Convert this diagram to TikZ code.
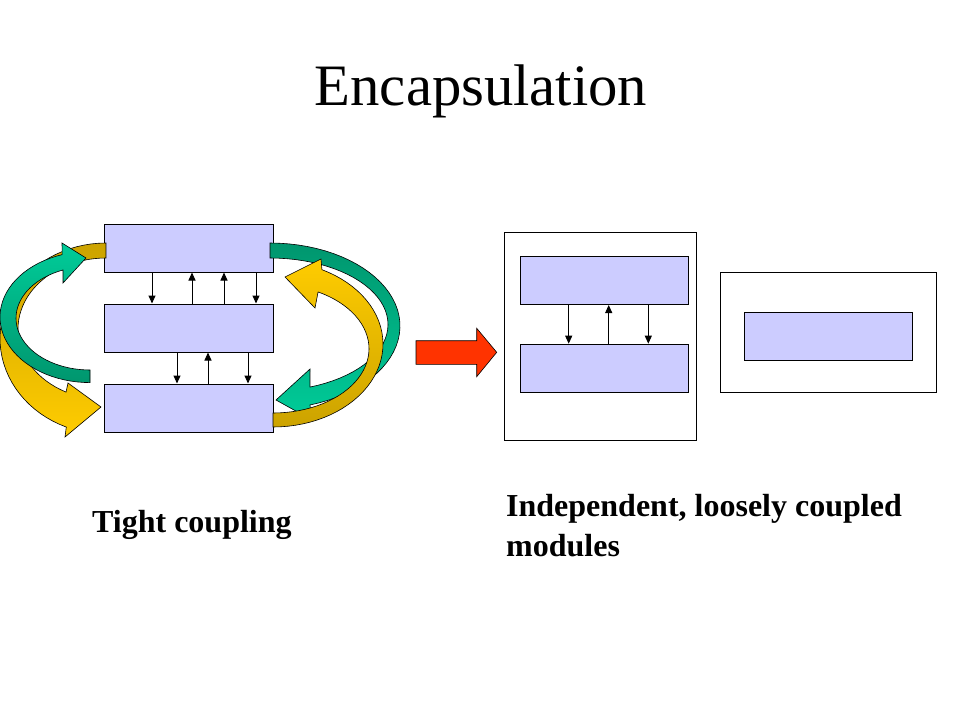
\documentclass[tikz,border=0pt]{standalone}
\usepackage{fontspec}
\setmainfont{Liberation Serif}
\usetikzlibrary{arrows.meta}
\definecolor{lavender}{RGB}{204,204,255}
\definecolor{darkgold}{RGB}{204,163,0}
\definecolor{brightgold}{RGB}{255,204,0}
\definecolor{darkteal}{RGB}{0,150,110}
\definecolor{brightteal}{RGB}{0,204,153}
\definecolor{blockred}{RGB}{255,51,0}
\begin{document}
\begin{tikzpicture}[x=1pt,y=-1pt,
    box/.style={draw,line width=1pt,fill=lavender,minimum width=169pt,minimum height=48pt,inner sep=0pt},
    frame/.style={draw,line width=1pt,fill=white,inner sep=0pt},
    link/.style={line width=1pt,-{Triangle[width=7pt,length=8pt]}},
    band/.style={draw=black,line width=0.6pt},
    caption/.style={anchor=base west,inner sep=0pt,align=left,font=\bfseries\fontsize{32}{40}\selectfont}]
                \useasboundingbox (0,0) rectangle (960,720);
                \node[anchor=base,inner sep=0pt,font=\fontsize{58.7}{70}\selectfont] (title) at (481,105.5) {Encapsulation};
                % tight coupling
                \node[box] (top) at (188.5,248) {};
                \node[box] (mid) at (188.5,328) {};
                \node[box] (bot) at (188.5,408) {};
                \shade[band,top color=darkgold,bottom color=brightgold]
                    plot[domain=270:112,samples=40] ({106+106*cos(\x)},{338.5+95.5*sin(\x)})
                    -- (65,437) -- (101,407) -- (68,383)
                    -- plot[domain=117:270,samples=40] ({106+88*cos(\x)},{328.9+70.9*sin(\x)}) -- cycle;
                \shade[band,top color=brightteal,bottom color=darkteal]
                    plot[domain=90:252,samples=40] ({90+90*cos(\x)},{317+65.6*sin(\x)})
                    -- (62,243) -- (86,258) -- (63,283)
                    -- plot[domain=248.6:90,samples=40] ({90+74*cos(\x)},{318.2+51.8*sin(\x)}) -- cycle;
                \shade[band,top color=darkteal,bottom color=brightteal]
                    plot[domain=-90:72.1,samples=40] ({270+130*cos(\x)},{326+83*sin(\x)})
                    -- (312,420) -- (276,400) -- (310,369)
                    -- plot[domain=70.2:-90,samples=40] ({270+118*cos(\x)},{324.5+66.5*sin(\x)}) -- cycle;
                \shade[band,top color=brightgold,bottom color=darkgold]
                    plot[domain=90:-63.6,samples=40] ({273+110*cos(\x)},{344+83*sin(\x)})
                    -- (321,259) -- (285,277) -- (315,308)
                    -- plot[domain=-62:90,samples=40] ({273+96*cos(\x)},{348.7+64.3*sin(\x)}) -- cycle;
                \foreach \dx in {-36.5,67.5} \draw[link] ([xshift=\dx pt]top.south) -- ([xshift=\dx pt]mid.north);
                \foreach \dx in {3.5,35.5} \draw[link] ([xshift=\dx pt]mid.north) -- ([xshift=\dx pt]top.south);
                \foreach \dx in {-11.5,59.5} \draw[link] ([xshift=\dx pt]mid.south) -- ([xshift=\dx pt]bot.north);
                \draw[link] ([xshift=19.5pt]bot.north) -- ([xshift=19.5pt]mid.south);
                \node[caption] (tight) at (92,532) {Tight coupling};
                % block arrow
                \draw[line width=0.6pt,fill=blockred] (416,340.7) -- (476.7,340.7) -- (476.7,328.3) -- (496.7,352.3)
                    -- (476.7,376.7) -- (476.7,364.3) -- (416,364.3) -- cycle;
                % loose coupling
                \node[frame,minimum width=192.4pt,minimum height=207.7pt] (leftframe) at (600.5,336.2) {};
                \node[box,minimum width=168pt] (upper) at (604.3,280.5) {};
                \node[box,minimum width=168pt] (lower) at (604.3,368.2) {};
                \foreach \dx in {-35.6,44} \draw[link] ([xshift=\dx pt]upper.south) -- ([xshift=\dx pt]lower.north);
                \draw[link] ([xshift=4.4pt]lower.north) -- ([xshift=4.4pt]upper.south);
                \node[frame,minimum width=216pt,minimum height=119.6pt] (rightframe) at (828.7,332.5) {};
                \node[box,minimum width=168.4pt] (alone) at (828.5,336.2) {};
                \node[caption] (loose) at (506,556) {Independent, loosely coupled\\modules};
            \end{tikzpicture}
\end{document}
